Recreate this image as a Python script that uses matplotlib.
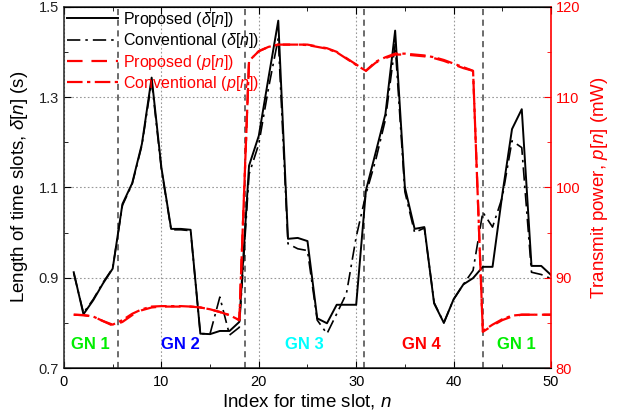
import matplotlib
matplotlib.use("Agg")
import matplotlib.pyplot as plt
from matplotlib.ticker import MultipleLocator, FixedLocator
import numpy as np

plt.rcParams['font.family'] = ['Liberation Sans', 'DejaVu Sans']
plt.rcParams['mathtext.fontset'] = 'custom'
plt.rcParams['mathtext.rm'] = 'Liberation Sans'
plt.rcParams['mathtext.it'] = 'Liberation Sans:italic'

n = np.arange(1, 51)

delta_proposed = [0.912, 0.819, 0.85, 0.887, 0.92, 1.063, 1.109, 1.196, 1.343, 1.144,
                  1.008, 1.008, 1.006, 0.776, 0.775, 0.782, 0.782, 0.802, 1.148, 1.214,
                  1.343, 1.469, 0.986, 0.988, 0.981, 0.81, 0.799, 0.84, 0.84, 0.84,
                  1.093, 1.177, 1.262, 1.447, 1.1, 1.008, 1.012, 0.843, 0.80, 0.852,
                  0.885, 0.899, 0.924, 0.924, 1.084, 1.229, 1.273, 0.926, 0.926, 0.906]

delta_conventional = [0.910, 0.822, 0.852, 0.889, 0.921, 1.060, 1.107, 1.193, 1.335, 1.140,
                      1.006, 1.006, 1.004, 0.776, 0.776, 0.857, 0.773, 0.790, 1.129, 1.196,
                      1.32, 1.43, 0.975, 0.964, 0.960, 0.806, 0.776, 0.82, 0.865, 0.99,
                      1.085, 1.16, 1.25, 1.416, 1.09, 1.0, 1.01, 0.845, 0.80, 0.852,
                      0.885, 0.916, 1.045, 1.012, 1.078, 1.203, 1.188, 0.912, 0.907, 0.898]

p_proposed = [85.9, 85.85, 85.7, 85.2, 84.7, 85.1, 85.85, 86.4, 86.7, 86.8,
              86.8, 86.8, 86.8, 86.7, 86.5, 86.2, 85.85, 85.3, 114.0, 115.07,
              115.55, 115.8, 115.8, 115.8, 115.8, 115.6, 115.4, 115.0, 114.3, 113.6,
              112.9, 113.8, 114.3, 114.7, 114.7, 114.6, 114.5, 114.3, 114.0, 113.6,
              113.2, 112.9, 84.0, 84.7, 85.3, 85.7, 85.9, 85.9, 85.9, 85.9]

p_conventional = [85.9, 85.85, 85.7, 85.2, 84.8, 85.3, 86.0, 86.5, 86.8, 86.85,
                  86.85, 86.85, 86.8, 86.7, 86.5, 86.2, 85.85, 85.3, 114.0, 115.07,
                  115.55, 115.8, 115.8, 115.8, 115.75, 115.55, 115.35, 114.95, 114.25, 113.55,
                  112.9, 113.9, 114.4, 114.8, 114.8, 114.7, 114.6, 114.4, 114.1, 113.7,
                  113.3, 112.9, 84.1, 84.8, 85.4, 85.8, 85.9, 85.9, 85.9, 85.9]

left_ticks = [0.7, 0.9, 1.1, 1.3, 1.5]
left_minor = [0.8, 1.0, 1.2, 1.4]
right_ticks = [80, 90, 100, 110, 120]
x_ticks = [0, 10, 20, 30, 40, 50]

boundaries = [5.5, 18.6, 30.8, 43.0]
gn_labels = ['GN 1', 'GN 2', 'GN 3', 'GN 4', 'GN 1']
gn_x = [2.7, 11.9, 24.7, 36.7, 46.4]
gn_colors = ['#00ee00', '#0000ff', '#00ffff', '#ff0000', '#00ee00']

fig = plt.figure(figsize=(6.23, 4.17), dpi=100)
ax = fig.add_axes([0.1027, 0.1175, 0.7817, 0.8665])
ax2 = ax.twinx()

ax.set_xlim(0, 50)
ax.set_ylim(0.7, 1.5)
ax2.set_ylim(80, 120)

ax.xaxis.set_major_locator(FixedLocator(x_ticks))
ax.xaxis.set_minor_locator(MultipleLocator(5))
ax.yaxis.set_major_locator(FixedLocator(left_ticks))
ax.yaxis.set_minor_locator(FixedLocator(left_minor))
ax.set_yticklabels([f'{v:.1f}' for v in left_ticks])
ax2.yaxis.set_major_locator(FixedLocator(right_ticks))
ax2.yaxis.set_minor_locator(MultipleLocator(5))

ax.grid(True, which='major', linestyle=(0, (1.5, 2)), color='#999999', linewidth=0.8)

for b in boundaries:
    ax.axvline(b, color='#444444', linestyle=(0, (4, 3)), linewidth=1.1, zorder=1)

l1, = ax.plot(n, delta_proposed, color='black', linewidth=1.4, linestyle='-', label=r'Proposed ($\mathit{\delta[n]}$)', zorder=3)
l2, = ax.plot(n, delta_conventional, color='black', linewidth=1.2, linestyle=(0, (8, 3, 1.5, 3)), label=r'Conventional ($\mathit{\delta[n]}$)', zorder=3)
l3, = ax2.plot(n, p_proposed, color='red', linewidth=1.6, linestyle=(0, (7, 4)), label=r'Proposed ($\mathit{p[n]}$)', zorder=3)
l4, = ax2.plot(n, p_conventional, color='red', linewidth=1.6, linestyle=(0, (7, 2, 1.5, 2)), label=r'Conventional ($\mathit{p[n]}$)', zorder=3)

for lab, x, c in zip(gn_labels, gn_x, gn_colors):
    ax.text(x, 0.752, lab, color=c, fontsize=12, fontweight='bold', ha='center', va='center')

for a in (ax, ax2):
    a.tick_params(which='both', direction='in', labelsize=10.5)
    a.tick_params(which='major', length=5)
    a.tick_params(which='minor', length=3)
ax.tick_params(axis='x', which='both', top=True, pad=5)
ax.tick_params(axis='y', which='both', right=False, labelcolor='#222222')
ax2.tick_params(axis='y', which='both', colors='red')
ax2.spines['right'].set_color('red')
ax2.spines['right'].set_linewidth(1.2)
ax2.spines['left'].set_visible(False)
for s in ('left', 'top', 'bottom'):
    ax.spines[s].set_color('#222222')
    ax.spines[s].set_linewidth(1.1)
ax.spines['right'].set_visible(False)

ax.set_xlabel(r'Index for time slot, $\mathit{n}$', fontsize=13.5, labelpad=2)
ax.set_ylabel(r'Length of time slots, $\mathit{\delta[n]}$ (s)', fontsize=13.5, labelpad=6)
ax2.set_ylabel(r'Transmit power, $\mathit{p[n]}$ (mW)', fontsize=13.5, color='red', labelpad=6)

leg = ax2.legend(handles=[l1, l2, l3, l4], loc='upper left', frameon=False, fontsize=11.5,
                 handlelength=3.2, handletextpad=0.3, borderaxespad=0.1, labelspacing=0.15,
                 borderpad=0.1)
for t, c in zip(leg.get_texts(), ['black', 'black', 'red', 'red']):
    t.set_color(c)

fig.savefig('out.png', dpi=100)
